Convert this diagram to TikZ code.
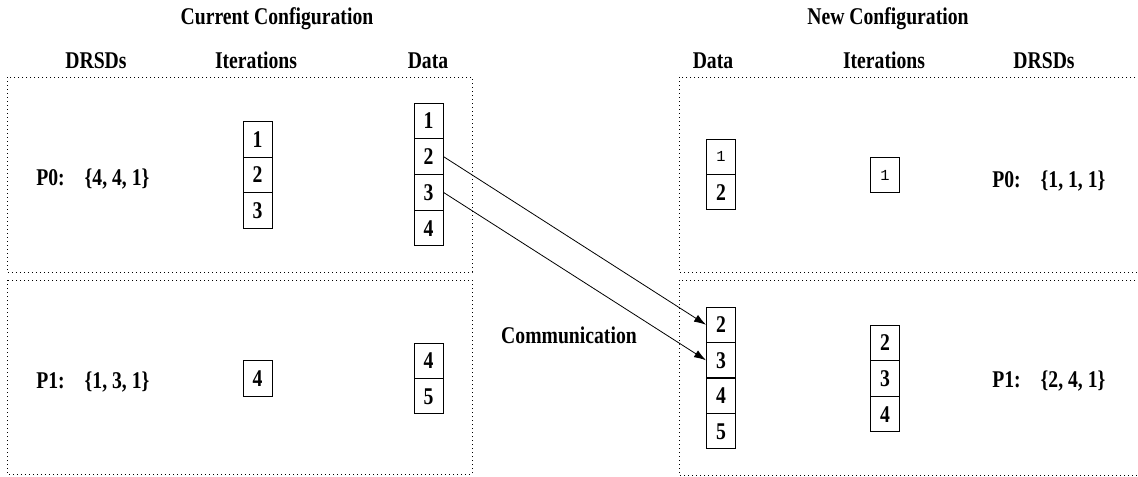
\documentclass[tikz,border=0pt]{standalone}
\usepackage{fontspec}
\setmainfont{Liberation Serif}[FakeStretch=0.82]
\setmonofont{Liberation Mono}
\usepackage{tikz}
\usetikzlibrary{arrows.meta}

\tikzset{
  lbl/.style={font=\bfseries\fontsize{18}{20}\selectfont, inner sep=0.75pt},
  cell/.style={draw, line width=0.75pt, minimum width=21.75pt, minimum height=26.6pt,
    inner sep=0pt, font=\bfseries\fontsize{18}{20}\selectfont},
  ttcell/.style={cell, font=\ttfamily\fontsize{11.5}{12}\selectfont},
  region/.style={draw, line width=0.6pt, dash pattern=on 0.6pt off 2.4pt},
  comm/.style={-{Latex[length=9pt,width=6pt]}, line width=0.6pt}
}

\begin{document}
\begin{tikzpicture}[x=0.75pt,y=0.75pt,yscale=-1,xscale=1]
\useasboundingbox (0,0) rectangle (1138,476);

%Shape: Rectangle [id:regions]
\draw[region] (7,77) rectangle (472,272);
\draw[region] (7,280) rectangle (472,474);
\draw[region] (679,77) rectangle (1150,272);
\draw[region] (679,280) rectangle (1150,475);

% Text Node
\node[lbl, anchor=base] (curcfg) at (277,24) {Current Configuration};
% Text Node
\node[lbl, anchor=base] (newcfg) at (888,24) {New Configuration};
% Text Node
\node[lbl, anchor=base] (hdrsdl) at (96,68.5) {DRSDs};
\node[lbl, anchor=base] (hiterl) at (256,68.5) {Iterations};
\node[lbl, anchor=base] (hdatal) at (428,68.5) {Data};
\node[lbl, anchor=base] (hdatar) at (713,68.5) {Data};
\node[lbl, anchor=base] (hiterr) at (884,68.5) {Iterations};
\node[lbl, anchor=base] (hdrsdr) at (1044,68.5) {DRSDs};

% Text Node
\node[lbl, anchor=base west] (pzl) at (35,185) {P0:\hspace{15pt}\{4, 4, 1\}};
\node[lbl, anchor=base west] (pol) at (35,388) {P1:\hspace{15pt}\{1, 3, 1\}};
\node[lbl, anchor=base west] (pzr) at (991,187) {P0:\hspace{15pt}\{1, 1, 1\}};
\node[lbl, anchor=base west] (por) at (991,387) {P1:\hspace{15pt}\{2, 4, 1\}};
\node[lbl, anchor=base] (commlbl) at (569,343) {Communication};

%Current configuration, P0
\node[cell] (li1) at (257.5,139.7) {1};
\node[cell] (li2) at (257.5,175) {2};
\node[cell] (li3) at (257.5,210.3) {3};
\node[cell] (ld1) at (428.5,120.9) {1};
\node[cell] (ld2) at (428.5,156.6) {2};
\node[cell] (ld3) at (428.5,192.4) {3};
\node[cell] (ld4) at (428.5,228.1) {4};

%Current configuration, P1
\node[cell] (li4) at (257.5,378.5) {4};
\node[cell] (ld4b) at (428.5,360.75) {4};
\node[cell] (ld5b) at (428.5,396.25) {5};

%New configuration, P0
\node[ttcell] (rd1) at (721,156.75) {1};
\node[cell] (rd2) at (721,192.25) {2};
\node[ttcell] (ri1) at (885,175) {1};

%New configuration, P1
\node[cell] (rd2b) at (721,324.75) {2};
\node[cell] (rd3b) at (721,360.25) {3};
\node[cell] (rd4b) at (721,395.75) {4};
\node[cell] (rd5b) at (721,431.25) {5};
\node[cell] (ri2) at (885,342.8) {2};
\node[cell] (ri3) at (885,378.5) {3};
\node[cell] (ri4) at (885,414.2) {4};

%Straight Lines [id:communication]
\draw[comm] (ld2.east) -- (rd2b.west);
\draw[comm] (ld3.east) -- (rd3b.west);

\end{tikzpicture}
\end{document}
